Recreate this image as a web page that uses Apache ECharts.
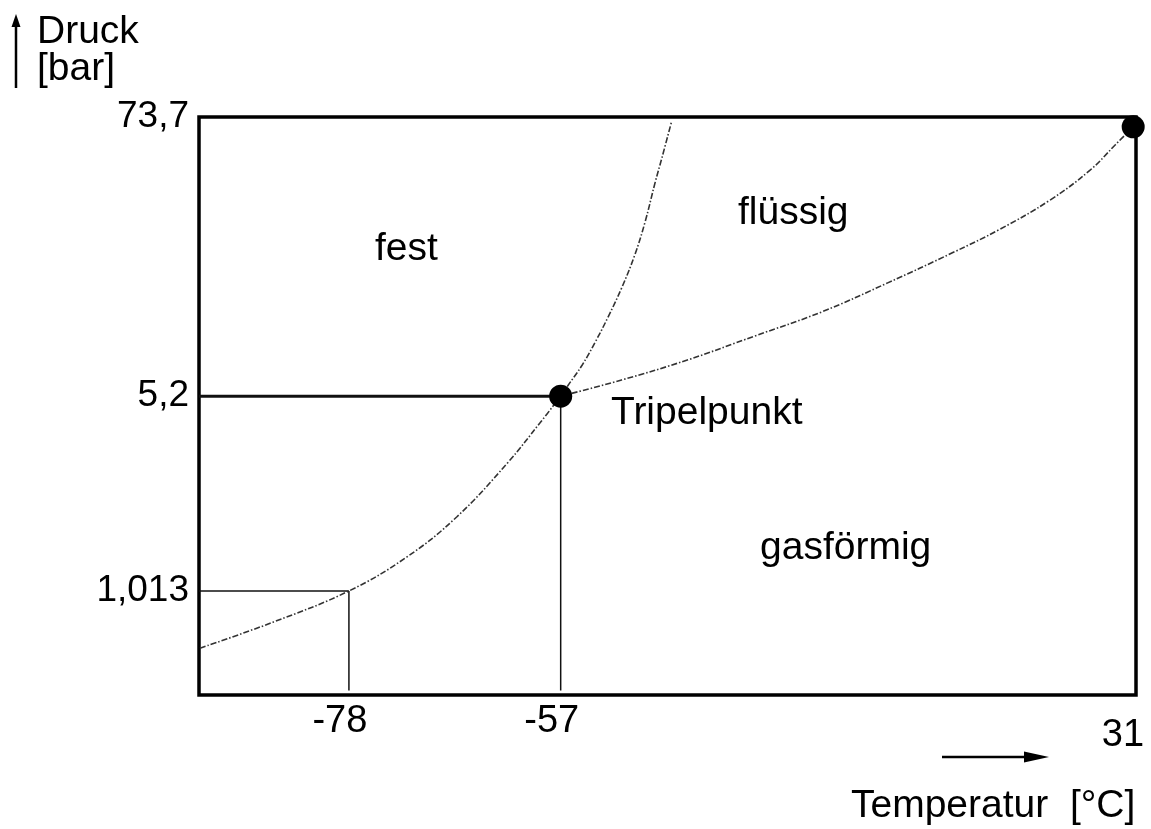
<!DOCTYPE html>
<html>
<head>
<meta charset="utf-8">
<script src="https://cdn.jsdelivr.net/npm/echarts@6/dist/echarts.min.js"></script>
<style>
  html, body { margin: 0; padding: 0; background: #fff; }
  #chart { width: 1151px; height: 829px; }
</style>
</head>
<body>
<div id="chart"></div>
<script>
// Schematisches Phasendiagramm CO2 – Achsen in Diagramm-Einheiten (0..100), Beschriftung über Tick-Arrays
const xTickPos = [16.0, 38.6, 100]
const xTickLabels = ['-78', '-57', '31']
const yTickPos = [18.0, 51.7, 100]
const yTickLabels = ['1,013', '5,2', '73,7']

const sublimation = [[0.1, 8.1], [7.9, 12.6], [16.0, 18.0], [22.2, 23.9], [27.5, 30.8], [32.9, 40.1], [36.4, 47.1], [38.6, 51.7]]
const melting = [[38.6, 51.7], [39.4, 53.6], [40.9, 57.1], [42.3, 61.1], [43.6, 65.2], [45.1, 70.4], [46.5, 76.1], [47.6, 81.8], [48.7, 88.8], [49.4, 92.9], [50.4, 99.0]]
const boiling = [[38.6, 51.7], [45.1, 54.5], [52.2, 58.0], [59.3, 62.1], [66.5, 66.3], [73.5, 71.3], [80.4, 76.5], [85.5, 80.6], [90.8, 85.6], [95.1, 90.8], [97.8, 95.2], [99.7, 98.3]]

const triplePoint = [38.6, 51.7]
const criticalPoint = [99.7, 98.3]
const sublimationPoint = [16.0, 18.0]

const FONT = 'Liberation Sans, Arial, sans-serif'
const labelOf = (pos, ticks, labels) => {
  const i = ticks.findIndex(t => Math.abs(t - pos) < 0.01)
  return i >= 0 ? labels[i] : ''
}

const chart = echarts.init(document.getElementById('chart'), null, { renderer: 'canvas' })

const curve = data => ({
  type: 'line',
  data,
  smooth: 0.4,
  symbol: 'none',
  silent: true,
  lineStyle: { color: '#333', width: 1.6, type: [6, 2, 1.5, 2] },
  z: 3
})

const guide = (data, width) => ({
  type: 'line',
  data,
  symbol: 'none',
  silent: true,
  lineStyle: { color: '#111', width },
  z: 2
})

const text = (left, top, str) => ({
  type: 'text', left, top,
  style: { text: str, fontSize: 39, fontFamily: FONT, fill: '#000' }
})

chart.setOption({
  backgroundColor: '#fff',
  animation: false,
  grid: {
    left: 199, right: 15, top: 117, bottom: 134,
    show: true, borderColor: '#000', borderWidth: 3.5
  },
  xAxis: {
    type: 'value', min: 0, max: 100,
    axisLine: { show: false },
    axisTick: { show: false },
    splitLine: { show: false },
    axisLabel: {
      customValues: xTickPos,
      formatter: v => {
        const s = labelOf(v, xTickPos, xTickLabels)
        return v === 100 ? '{low|' + s + '}' : s
      },
      color: '#000', fontSize: 38, fontFamily: FONT,
      margin: 8, padding: [0, 18, 0, 0],
      rich: { low: { fontSize: 38, fontFamily: FONT, color: '#000', padding: [14, 8, 0, 0] } }
    }
  },
  yAxis: {
    type: 'value', min: 0, max: 100,
    axisLine: { show: false },
    axisTick: { show: false },
    splitLine: { show: false },
    axisLabel: {
      customValues: yTickPos,
      formatter: v => labelOf(v, yTickPos, yTickLabels),
      color: '#000', fontSize: 37, fontFamily: FONT,
      margin: 10
    }
  },
  series: [
    guide([[0, triplePoint[1]], triplePoint], 3),
    guide([triplePoint, [triplePoint[0], 0.8]], 1.5),
    guide([[0, sublimationPoint[1]], sublimationPoint], 1.5),
    guide([sublimationPoint, [sublimationPoint[0], 0.8]], 1.5),
    curve(sublimation),
    curve(melting),
    curve(boiling),
    {
      type: 'scatter',
      data: [triplePoint, criticalPoint],
      symbolSize: 23,
      itemStyle: { color: '#000', opacity: 1 },
      silent: true,
      z: 5
    }
  ],
  graphic: [
    // Druck-Pfeil
    { type: 'line', shape: { x1: 16, y1: 88, x2: 16, y2: 24 }, style: { stroke: '#000', lineWidth: 2.5 } },
    { type: 'polygon', shape: { points: [[16, 14], [11.5, 27], [20.5, 27]] }, style: { fill: '#000' } },
    text(37, 13, 'Druck'),
    text(37, 50, '[bar]'),
    // Temperatur-Pfeil
    { type: 'line', shape: { x1: 942, y1: 757, x2: 1030, y2: 757 }, style: { stroke: '#000', lineWidth: 2.5 } },
    { type: 'polygon', shape: { points: [[1049, 757], [1024, 751.5], [1024, 762.5]] }, style: { fill: '#000' } },
    text(851, 787, 'Temperatur  [°C]'),
    // Bereiche
    text(375, 230, 'fest'),
    text(738, 194, 'flüssig'),
    text(611, 394, 'Tripelpunkt'),
    text(760, 529, 'gasförmig')
  ]
})
</script>
</body>
</html>
